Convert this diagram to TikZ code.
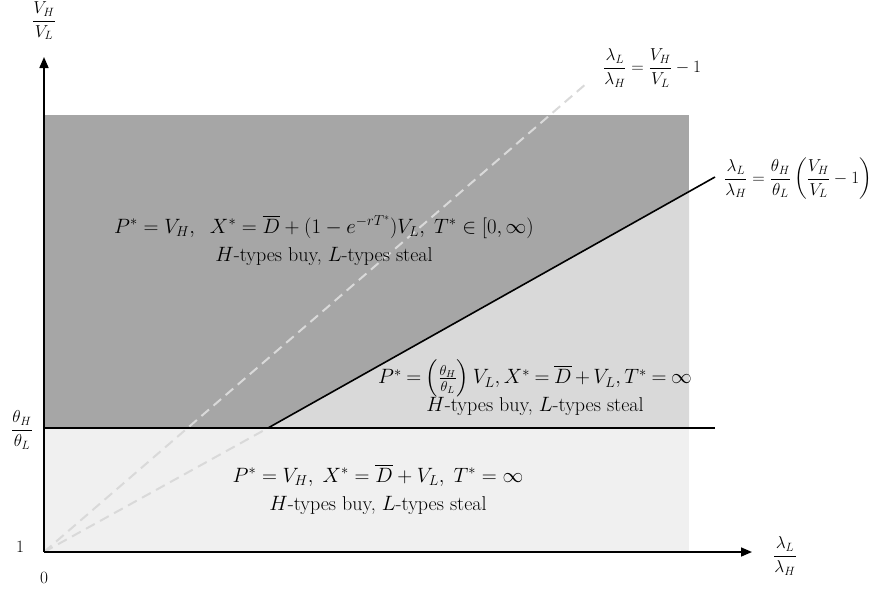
\documentclass[tikz,border=0pt]{standalone}
\usepackage{amsmath}
\usetikzlibrary{arrows.meta}
\definecolor{darkreg}{HTML}{A6A6A6}
\definecolor{midreg}{HTML}{D9D9D9}
\definecolor{lightreg}{HTML}{F0F0F0}
\definecolor{dashcol}{HTML}{D9D9D9}
\begin{document}
\begin{tikzpicture}[x=1pt,y=-1pt,
  axis/.style={line width=1.6pt,-{Triangle[length=11pt,width=9pt]}},
  bound/.style={line width=1.6pt},
  dashln/.style={dashcol,line width=2pt,dash pattern=on 10pt off 6pt},
  lbl/.style={font=\fontsize{17}{20}\selectfont,inner sep=0pt},
  numlbl/.style={font=\fontsize{19}{22}\selectfont,inner sep=0pt},
  regtext/.style={font=\fontsize{20}{28}\selectfont,align=center,inner sep=0pt}]
\useasboundingbox (0,0) rectangle (873,590);
% coordinates
\coordinate (O) at (44,552);
\coordinate (K) at (268,428);
\coordinate (E) at (715,177);
\coordinate (HL) at (44,428);
\coordinate (HR) at (715,428);
\coordinate (D) at (587,83);
\coordinate (ytip) at (44,57);
\coordinate (xtip) at (752,552);
% regions
\fill[darkreg] (44,115) rectangle (689,428);
\fill[lightreg] (44,428) rectangle (689,552);
\fill[midreg] (K) -- (689,428) -- (689,191.6) -- cycle;
% dashed lines
\draw[dashln] (O) -- (D);
\draw[dashln] (O) -- (K);
% boundaries
\draw[line width=1.3pt] (HL) -- (HR);
\draw[bound] (K) -- (E);
% axes
\draw[axis] (O) -- (ytip);
\draw[axis] (O) -- (xtip);
% axis labels
\node[lbl] (ylab) at (44,21) {$\dfrac{V_H}{V_L}$};
\node[lbl] (xlab) at (785,556) {$\dfrac{\lambda_L}{\lambda_H}$};
\node[lbl] (th) at (22,430) {$\dfrac{\theta_H}{\theta_L}$};
\node[numlbl] (one) at (20,547) {$1$};
\node[numlbl] (zero) at (44,578) {$0$};
% line labels
\node[lbl,anchor=west] (l1) at (603,68) {$\dfrac{\lambda_L}{\lambda_H}=\dfrac{V_H}{V_L}-1$};
\node[lbl,anchor=west] (l2) at (724,179) {$\dfrac{\lambda_L}{\lambda_H}=\dfrac{\theta_H}{\theta_L}\left(\dfrac{V_H}{V_L}-1\right)$};
% region texts
\node[regtext] (r1) at (324,240) {$P^*=V_H,\;\;X^*=\overline{D}+(1-e^{-rT^*})V_L,\;T^*\in[0,\infty)$\\$H$-types buy, $L$-types steal};
\node[regtext] (r2) at (535,388) {\thickmuskip=4mu\medmuskip=3mu$P^*=\left(\frac{\theta_H}{\theta_L}\right)V_L, X^*=\overline{D}+V_L, T^*=\infty$\\$H$-types buy, $L$-types steal};
\node[regtext] (r3) at (378,489) {$P^*=V_H,\;X^*=\overline{D}+V_L,\;T^*=\infty$\\$H$-types buy, $L$-types steal};
\end{tikzpicture}
\end{document}
